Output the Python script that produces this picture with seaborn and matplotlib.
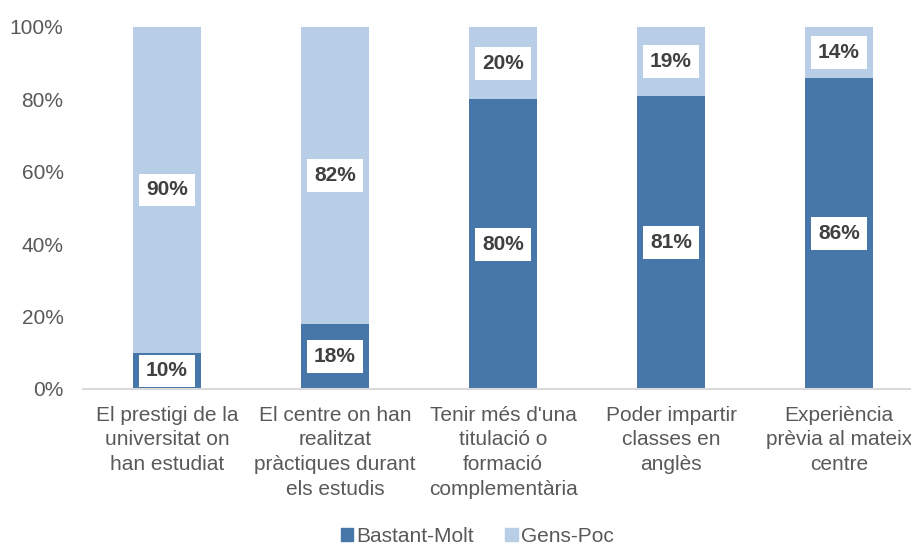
import matplotlib
matplotlib.use("Agg")
import matplotlib.pyplot as plt
import seaborn as sns
import pandas as pd
from matplotlib.patches import Patch
from matplotlib.ticker import FuncFormatter

categories = [
    "El prestigi de la\nuniversitat on\nhan estudiat",
    "El centre on han\nrealitzat\npràctiques durant\nels estudis",
    "Tenir més d'una\ntitulació o\nformació\ncomplementària",
    "Poder impartir\nclasses en\nanglès",
    "Experiència\nprèvia al mateix\ncentre",
]
bastant_molt = [10, 18, 80, 81, 86]
gens_poc = [90, 82, 20, 19, 14]
series_names = ["Bastant-Molt", "Gens-Poc"]
yticks = [0, 20, 40, 60, 80, 100]

dark = "#4677A8"
light = "#B8CDE6"
FS = 15

sns.set_theme(style="white")
plt.rcParams["font.family"] = ["Liberation Sans", "DejaVu Sans"]

df = pd.DataFrame({"cat": categories, "bm": bastant_molt, "gp": gens_poc})
df["total"] = df["bm"] + df["gp"]

fig = plt.figure(figsize=(9.11, 5.44), dpi=100)
ax = fig.add_axes([83 / 911, 1 - 389 / 544, 840 / 911, 362 / 544])

sns.barplot(data=df, x="cat", y="total", color=light, width=0.4, ax=ax,
            saturation=1, linewidth=0)
sns.barplot(data=df, x="cat", y="bm", color=dark, width=0.4, ax=ax,
            saturation=1, linewidth=0)

bbox = dict(boxstyle="square,pad=0.33", fc="white", ec="none")
for i, (b, g) in enumerate(zip(bastant_molt, gens_poc)):
    ax.text(i, b / 2, f"{b}%", ha="center", va="center", fontsize=FS,
            fontweight="bold", color="#404040", bbox=bbox)
    ax.text(i, b + g / 2, f"{g}%", ha="center", va="center", fontsize=FS,
            fontweight="bold", color="#404040", bbox=bbox)

ax.set_xlim(-0.5, 4.5)
ax.set_ylim(0, 100)
ax.set_yticks(yticks)
ax.yaxis.set_major_formatter(FuncFormatter(lambda v, p: f"{int(v)}%"))
ax.tick_params(axis="both", labelsize=FS, colors="#595959", length=0)
ax.tick_params(axis="y", pad=14)
ax.tick_params(axis="x", pad=12)
ax.set_xlabel("")
ax.set_ylabel("")
for s in ["top", "right", "left"]:
    ax.spines[s].set_visible(False)
ax.spines["bottom"].set_color("#D9D9D9")
ax.spines["bottom"].set_linewidth(1.5)
ax.grid(False)

for lbl in ax.get_xticklabels():
    lbl.set_linespacing(1.38)

handles = [Patch(color=dark, label=series_names[0]),
           Patch(color=light, label=series_names[1])]
fig.legend(handles=handles, loc="center", bbox_to_anchor=(477 / 911, 1 - 536 / 544),
           ncol=2, frameon=False, fontsize=FS, labelcolor="#595959",
           handlelength=0.6, handleheight=0.6, handletextpad=0.15, columnspacing=1.5)

fig.savefig("out.png", dpi=100)
